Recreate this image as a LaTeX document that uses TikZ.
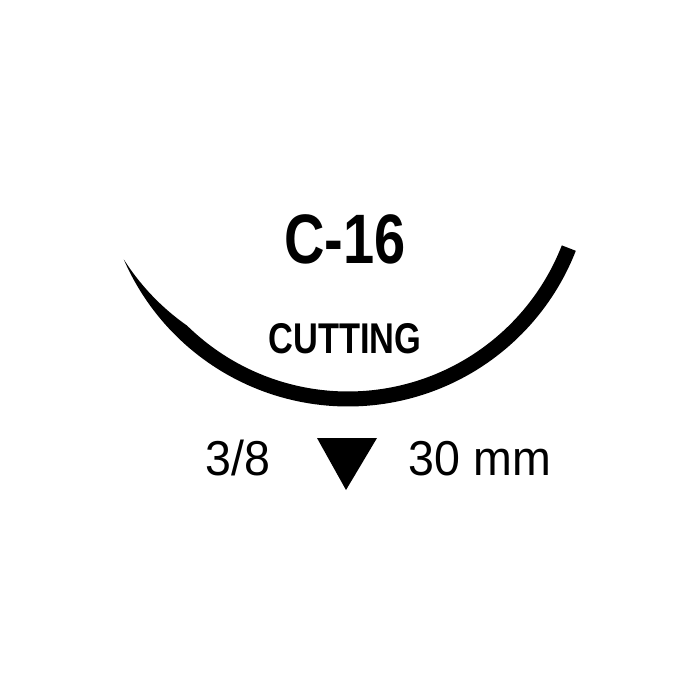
\documentclass[tikz,border=0pt]{standalone}
\usepackage{fontspec}
\setmainfont{Liberation Sans}
\newfontfamily\condfont[FakeStretch=0.8]{Liberation Sans}
\newfontfamily\specfont[FakeStretch=0.95]{Liberation Sans}

\begin{document}
\begin{tikzpicture}[x=1pt, y=-1pt,
        bigtitle/.style={inner sep=0pt, anchor=base, font=\condfont\bfseries\fontsize{70}{70}\selectfont},
        subtitle/.style={inner sep=0pt, anchor=base, font=\condfont\bfseries\fontsize{43}{43}\selectfont},
        spec/.style={inner sep=0pt, anchor=base, font=\specfont\fontsize{49}{49}\selectfont}]
        \useasboundingbox (0,0) rectangle (700,700);

        % needle, tapering to the point on the left
        \fill plot[domain=21.3:156.5, samples=100] ({348+244.5*cos(\x)}, {162+244.5*sin(\x)})
            -- plot[domain=156.5:21.3, samples=100] ({348+(244.5-15*min(1,(156.5-\x)/22))*cos(\x)}, {162+(244.5-15*min(1,(156.5-\x)/22))*sin(\x)})
            -- cycle;

        \node[bigtitle] (needle) at (345,263) {C-16};
        \node[subtitle] (point) at (345,353) {CUTTING};
        \node[spec] (ratio) at (238,475) {3/8};
        \node[spec] (length) at (480,475) {30 mm};

        % cutting point symbol
        \fill (317,438) -- (377,438) -- (346,490) -- cycle;
    \end{tikzpicture}
\end{document}
